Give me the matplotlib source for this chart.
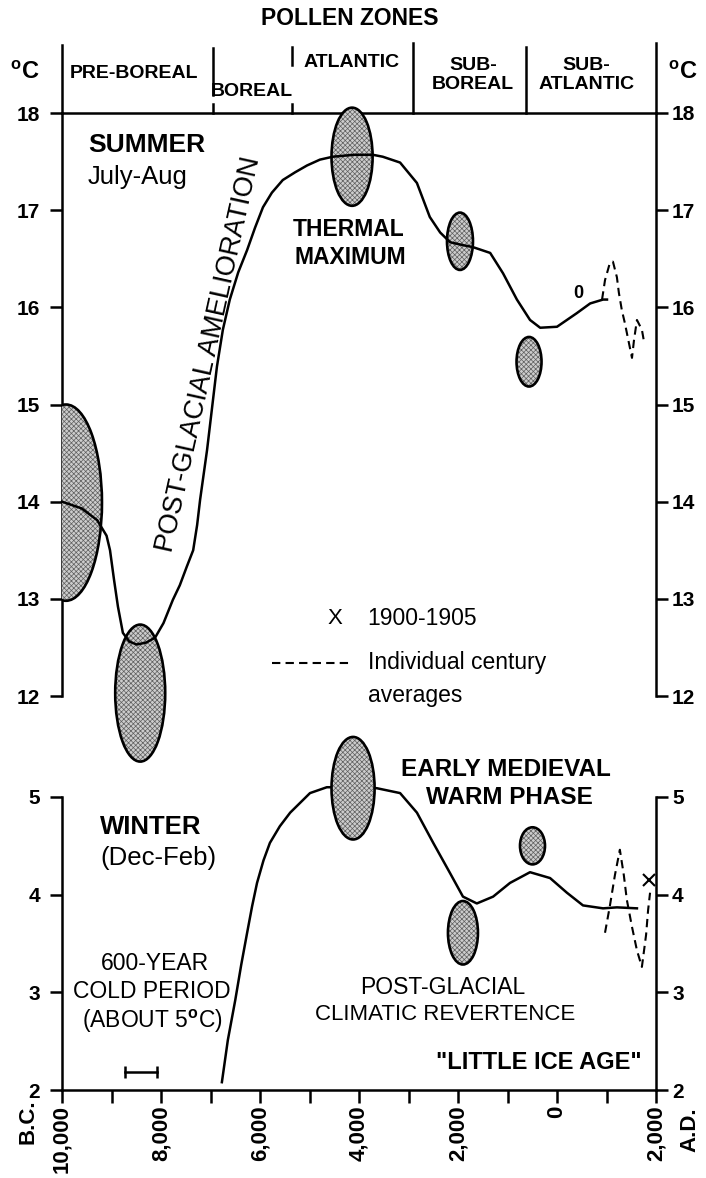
import numpy as np
import matplotlib.pyplot as plt
from matplotlib.patches import Ellipse

plt.rcParams['font.family'] = ['Liberation Sans', 'DejaVu Sans']
plt.rcParams['font.weight'] = 'bold'
plt.rcParams['hatch.linewidth'] = 0.5
plt.rcParams['mathtext.fontset'] = 'custom'
plt.rcParams['mathtext.rm'] = 'Liberation Sans'

# summer (July-Aug) mean curve: year (neg = B.C.), deg C
summer_years = [-10000, -9600, -9290, -9100, -9030, -8950, -8870, -8770, -8640, -8490,
                -8300, -8120, -7950, -7760, -7620, -7480, -7350, -7270, -7210, -7070,
                -6970, -6870, -6750, -6610, -6440, -6260, -6100, -5940, -5760, -5540,
                -5290, -5050, -4790, -4530, -4100, -3720, -3520, -3170, -2830, -2570,
                -2360, -2160, -1900, -1700, -1350, -1090, -810, -545, -340, 0,
                400, 670, 930, 1010]
summer_temp = [14.00, 13.93, 13.81, 13.65, 13.50, 13.20, 12.92, 12.65, 12.56, 12.53,
               12.55, 12.60, 12.75, 12.99, 13.14, 13.33, 13.50, 13.76, 14.02, 14.53,
               14.96, 15.39, 15.77, 16.08, 16.36, 16.59, 16.82, 17.03, 17.18, 17.31,
               17.39, 17.46, 17.52, 17.55, 17.57, 17.57, 17.55, 17.49, 17.28, 16.93,
               16.77, 16.67, 16.64, 16.62, 16.56, 16.35, 16.08, 15.87, 15.79, 15.80,
               15.94, 16.04, 16.08, 16.08]

# individual century averages (dashed)
summer_century_years = [910, 970, 1070, 1130, 1210, 1250, 1310, 1370, 1430, 1515,
                        1555, 1615, 1715, 1760]
summer_century_temp = [16.08, 16.28, 16.46, 16.47, 16.31, 16.15, 15.97, 15.84, 15.69, 15.48,
                       15.66, 15.87, 15.77, 15.64]

# winter (Dec-Feb) mean curve
winter_years = [-6770, -6650, -6500, -6380, -6260, -6160, -6060, -5930, -5800, -5600,
                -5390, -4990, -4650, -4100, -3640, -3170, -2830, -2500, -2160, -1900,
                -1620, -1290, -950, -545, -140, 200, 525, 930, 1210, 1615]
winter_temp = [2.08, 2.51, 2.92, 3.28, 3.61, 3.88, 4.12, 4.35, 4.53, 4.70,
               4.84, 5.04, 5.10, 5.10, 5.09, 5.04, 4.84, 4.53, 4.22, 3.98,
               3.91, 3.98, 4.12, 4.23, 4.17, 4.02, 3.89, 3.86, 3.87, 3.86]

winter_century_years = [970, 1070, 1170, 1270, 1350, 1410, 1515, 1615, 1715, 1800, 1840, 1880]
winter_century_temp = [3.61, 3.89, 4.20, 4.46, 4.20, 3.95, 3.67, 3.43, 3.26, 3.59, 3.84, 4.02]

# 1900-1905 point
winter_1900_year = [1850]
winter_1900_temp = [4.15]

# shaded uncertainty ellipses: centre year, centre temp, width (yr), height (deg C)
summer_blob_year = [-9920, -8420, -4140, -1960, -565]
summer_blob_temp = [13.99, 12.03, 17.55, 16.68, 15.44]
summer_blob_w = [1455, 1010, 830, 525, 505]
summer_blob_h = [2.02, 1.41, 1.01, 0.59, 0.51]

winter_blob_year = [-4120, -1900, -495]
winter_blob_temp = [5.09, 3.61, 4.50]
winter_blob_w = [870, 606, 505]
winter_blob_h = [1.05, 0.65, 0.38]

# pollen zones
zone_edge_year = [-10000, -6950, -5350, -2900, -620, 2000]
zone_edge_top = [18.70, 18.67, 18.68, 18.72, 18.68, 18.72]
zone_edge_bottom = [18.0, 18.19, 18.49, 18.0, 18.0, 18.0]
zone_stub_year = [-6950, -5350]
zone_labels = ['PRE-BOREAL', 'BOREAL', 'ATLANTIC', 'SUB-\nBOREAL', 'SUB-\nATLANTIC']
zone_label_year = [-8545, -6160, -4150, -1700, 590]
zone_label_temp = [18.41, 18.22, 18.52, 18.39, 18.39]

# 600-year cold period bar
cold_years = [-8730, -8080]
cold_temp = 2.18

# legend sample line
legend_years = [-5760, -4180]
legend_temp = 12.34

x_ticks = np.arange(-10000, 2001, 2000)
x_minor = np.arange(-9000, 2000, 2000)
x_labels = ['10,000', '8,000', '6,000', '4,000', '2,000', '0', '2,000']

W, H = 706, 1178
fig = plt.figure(figsize=(W / 100, H / 100), dpi=100)


def box(x0, y0, x1, y1):
    return [x0 / W, 1 - y1 / H, (x1 - x0) / W, (y1 - y0) / H]


ax_s = fig.add_axes(box(62, 113, 656, 696))
ax_w = fig.add_axes(box(62, 797, 656, 1090))

for ax, lo, hi in [(ax_s, 12, 18), (ax_w, 2, 5)]:
    ax.set_xlim(-10000, 2000)
    ax.set_ylim(lo, hi)
    ax.set_facecolor('none')
    for s in ax.spines.values():
        s.set_linewidth(1.8)
    ax.set_yticks(range(lo, hi + 1))
    ax.tick_params(axis='y', direction='out', length=8.6, width=1.8, labelsize=15, pad=7)
    # right hand scale
    rax = ax.twinx()
    rax.set_ylim(lo, hi)
    rax.set_yticks(range(lo, hi + 1))
    rax.tick_params(axis='y', direction='out', length=8.6, width=1.8, labelsize=15, pad=3)
    for s in rax.spines.values():
        s.set_visible(False)

ax_s.spines['bottom'].set_visible(False)
ax_s.tick_params(axis='x', bottom=False, labelbottom=False)
ax_w.spines['top'].set_visible(False)
ax_w.set_xticks(x_ticks)
ax_w.set_xticklabels(x_labels, rotation=90, fontsize=16)
ax_w.set_xticks(x_minor, minor=True)
ax_w.tick_params(axis='x', which='both', direction='out', length=9.4, width=1.8, pad=1.5)


def blobs(ax, xs, ys, ws, hs, clip_first=False, top=()):
    for i, (x, y, w, h) in enumerate(zip(xs, ys, ws, hs)):
        clip = clip_first and i == 0
        z = 5 if i in top else 3
        # stipple screen, then the black outline
        ax.add_patch(Ellipse((x, y), w, h, facecolor='#cdcdcd', edgecolor='#5f5f5f', lw=0,
                             hatch='xxxxxxx', clip_on=clip, zorder=z))
        ax.add_patch(Ellipse((x, y), w, h, facecolor='none', edgecolor='k', lw=1.9,
                             clip_on=clip, zorder=z))


blobs(ax_s, summer_blob_year, summer_blob_temp, summer_blob_w, summer_blob_h, clip_first=True)
blobs(ax_w, winter_blob_year, winter_blob_temp, winter_blob_w, winter_blob_h, top=(0,))

ax_s.plot(summer_years, summer_temp, color='k', lw=1.8, zorder=4, clip_on=False)
ax_s.plot(summer_century_years, summer_century_temp, color='k', lw=1.5, ls=(0, (4, 2.5)),
          zorder=4, clip_on=False)
ax_w.plot(winter_years, winter_temp, color='k', lw=1.8, zorder=4, clip_on=False)
ax_w.plot(winter_century_years, winter_century_temp, color='k', lw=1.5, ls=(0, (4, 2.5)),
          zorder=4, clip_on=False)
ax_w.plot(winter_1900_year, winter_1900_temp, 'kx', ms=8, mew=1.5, zorder=6, clip_on=False)
ax_s.text(424, 16.14, '0', fontsize=13, ha='center', va='center')

# pollen zone dividers above the summer panel
for x, t, b in zip(zone_edge_year, zone_edge_top, zone_edge_bottom):
    ax_s.plot([x, x], [b, t], color='k', lw=1.8, clip_on=False)
for x in zone_stub_year:
    ax_s.plot([x, x], [18.0, 18.09], color='k', lw=1.8, clip_on=False)
for lab, x, t in zip(zone_labels, zone_label_year, zone_label_temp):
    ax_s.text(x, t, lab, fontsize=14, ha='center', va='center', linespacing=1.2)
ax_s.text(-4180, 18.97, 'POLLEN ZONES', fontsize=16.5, ha='center', va='center')
ax_s.text(-10750, 18.42, r'$^{\mathrm{o}}$C', fontsize=17, ha='center', va='center')
ax_s.text(2545, 18.42, r'$^{\mathrm{o}}$C', fontsize=17, ha='center', va='center')

# summer annotations
ax_s.text(-9475, 17.67, 'SUMMER', fontsize=19, ha='left', va='center')
ax_s.text(-9475, 17.34, 'July-Aug', fontsize=18.5, fontweight='normal', ha='left', va='center')
ax_s.text(-7040, 15.52, 'POST-GLACIAL AMELIORATION', fontsize=19.5, fontweight='normal',
          ha='center', va='center', rotation=77.5)
ax_s.text(-4200, 16.80, 'THERMAL', fontsize=16.5, ha='center', va='center')
ax_s.text(-4180, 16.51, 'MAXIMUM', fontsize=16.5, ha='center', va='center')
ax_s.text(-4485, 12.80, 'X', fontsize=16, fontweight='normal', ha='center', va='center')
ax_s.text(-3840, 12.80, '1900-1905', fontsize=16.5, fontweight='normal', ha='left', va='center')
ax_s.plot(legend_years, [legend_temp, legend_temp], color='k', lw=1.5, ls=(0, (4, 2.5)))
ax_s.text(-3820, 12.34, 'Individual century', fontsize=16.5, fontweight='normal',
          ha='left', va='center')
ax_s.text(-3820, 12.01, 'averages', fontsize=16.5, fontweight='normal', ha='left', va='center')

# winter annotations
ax_w.text(-9230, 4.69, 'WINTER', fontsize=18.5, ha='left', va='center')
ax_w.text(-9230, 4.38, '(Dec-Feb)', fontsize=18.5, fontweight='normal', ha='left', va='center')
ax_w.text(-8120, 3.30, '600-YEAR', fontsize=16.5, fontweight='normal', ha='center', va='center')
ax_w.text(-8180, 3.01, 'COLD PERIOD', fontsize=16.5, fontweight='normal', ha='center', va='center')
ax_w.text(-8180, 2.70, '(ABOUT 5$^{\\mathrm{o}}$C)', fontsize=16.5, fontweight='normal',
          ha='center', va='center')
ax_w.plot(cold_years, [cold_temp, cold_temp], color='k', lw=1.8, marker='|', ms=8, mew=1.8)
ax_w.text(-1030, 5.28, 'EARLY MEDIEVAL', fontsize=17.5, ha='center', va='center')
ax_w.text(-970, 4.99, 'WARM PHASE', fontsize=17.5, ha='center', va='center')
ax_w.text(-2300, 3.05, 'POST-GLACIAL', fontsize=16.5, fontweight='normal', ha='center', va='center')
ax_w.text(-2260, 2.77, 'CLIMATIC REVERTENCE', fontsize=16, fontweight='normal',
          ha='center', va='center')
ax_w.text(-365, 2.28, '"LITTLE ICE AGE"', fontsize=17, ha='center', va='center')

fig.text(28 / W, 1 - 1122 / H, 'B.C.', fontsize=16, rotation=90, ha='center', va='center')
fig.text(690 / W, 1 - 1130 / H, 'A.D.', fontsize=16, rotation=90, ha='center', va='center')

fig.savefig('out.png', dpi=100)
